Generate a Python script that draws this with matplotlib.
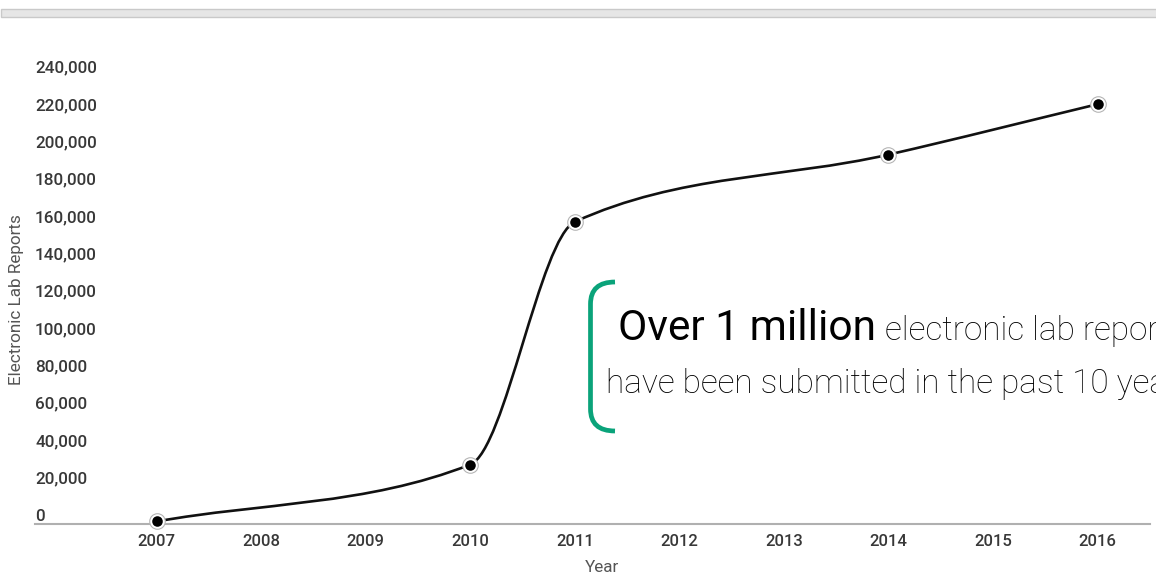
import numpy as np
import matplotlib
matplotlib.use("Agg")
import matplotlib.pyplot as plt
from matplotlib.path import Path
from matplotlib.patches import PathPatch, Rectangle
from matplotlib.transforms import offset_copy

plt.rcParams['font.family'] = ['Roboto', 'DejaVu Sans']

# data
years = [2007, 2010, 2011, 2014, 2016]
reports = [1500, 32000, 162000, 198000, 225000]

x_ticks = list(range(2007, 2017))
y_ticks = list(range(0, 240001, 20000))
y_tick_labels = [f"{v:,}" for v in y_ticks]

W, H = 1156, 578
fig = plt.figure(figsize=(W / 100, H / 100), dpi=100)

def px(x, y):
    # pixel position (from top-left) -> figure fraction
    return x / W, 1 - y / H

# axes area: baseline at y=524.3, 240,000 at y=76.2, x from 35 to 1150
left, bottom = px(35, 524.3)
r, top = px(1150, 76.2)
ax = fig.add_axes([left, bottom, r - left, top - bottom])
ax.set_xlim(2005.836, 2016.502)
ax.set_ylim(0, 240000)

# smooth monotone cubic through the points, drawn as bezier segments
xs = np.array(years, dtype=float)
ys = np.array(reports, dtype=float)
h = np.diff(xs)
d = np.diff(ys) / h
m = np.zeros_like(ys)
m[0], m[-1] = d[0], d[-1]
for i in range(1, len(xs) - 1):
    w1 = 2 * h[i] + h[i - 1]
    w2 = h[i] + 2 * h[i - 1]
    m[i] = (w1 + w2) / (w1 / d[i - 1] + w2 / d[i])
verts = [(xs[0], ys[0])]
codes = [Path.MOVETO]
for i in range(len(xs) - 1):
    verts += [(xs[i] + h[i] / 3, ys[i] + m[i] * h[i] / 3),
              (xs[i + 1] - h[i] / 3, ys[i + 1] - m[i + 1] * h[i] / 3),
              (xs[i + 1], ys[i + 1])]
    codes += [Path.CURVE4] * 3
ax.add_patch(PathPatch(Path(verts, codes), facecolor='none', edgecolor='#111111',
                       lw=1.9, clip_on=False, zorder=3))

# markers: white ring with grey outline, black dot
ax.plot(years, reports, 'o', ms=11.2, mfc='white', mec='#b5b5b5', mew=0.8,
        ls='none', clip_on=False, zorder=4)
ax.plot(years, reports, 'o', ms=7.6, mfc='black', mec='black', mew=0,
        ls='none', clip_on=False, zorder=5)

for s in ['left', 'right', 'top']:
    ax.spines[s].set_visible(False)
ax.spines['bottom'].set_color('#b0b0b0')
ax.spines['bottom'].set_linewidth(1.5)

ax.set_xticks(x_ticks)
ax.set_xticklabels([str(y) for y in x_ticks])
ax.tick_params(axis='x', length=0, pad=7, labelsize=12, labelcolor='#383838')
for lab in ax.get_xticklabels():
    lab.set_fontweight('medium')

ax.set_yticks([])
ytrans = offset_copy(ax.get_yaxis_transform(), fig=fig, x=0, y=3.6, units='dots')
for v, lab in zip(y_ticks, y_tick_labels):
    ax.text(0, v, lab, transform=ytrans, ha='left', va='baseline',
            fontsize=12.3, color='#383838', fontweight='medium', clip_on=False)

fig.text(*px(601.7, 568), "Year", ha='center', va='center', fontsize=12.3,
         color='#555555')
fig.text(*px(17, 300), "Electronic Lab Reports", ha='center', va='center',
         rotation=90, fontsize=12.3, color='#555555')

# top grey bar
bx, by = px(1, 16.7)
fig.patches.append(Rectangle((bx, by), 1.0, 7.4 / H, transform=fig.transFigure,
                             facecolor='#e6e6e6', edgecolor='#c9c9c9', lw=1))

# green bracket
bv = [(615, 282), (590.5, 282), (590.5, 304), (590.5, 409), (590.5, 431), (615, 431)]
bc = [Path.MOVETO, Path.CURVE3, Path.CURVE3, Path.LINETO, Path.CURVE3, Path.CURVE3]
fig.patches.append(PathPatch(Path([px(*p) for p in bv], bc), transform=fig.transFigure,
                             facecolor='none', edgecolor='#0aa37a', lw=3.4,
                             capstyle='butt'))

# the reference cuts these lines off at the right edge as well
fig.text(*px(618, 340), "Over 1 million", ha='left', va='baseline', fontsize=30.6,
         color='black')
fig.text(*px(885, 340), "electronic lab reports", ha='left', va='baseline',
         fontsize=24, color='black', fontweight='light')
fig.text(*px(606, 393), "have been submitted in the past 10 years", ha='left',
         va='baseline', fontsize=24, color='black', fontweight='light')

fig.savefig('out.png', dpi=100)
